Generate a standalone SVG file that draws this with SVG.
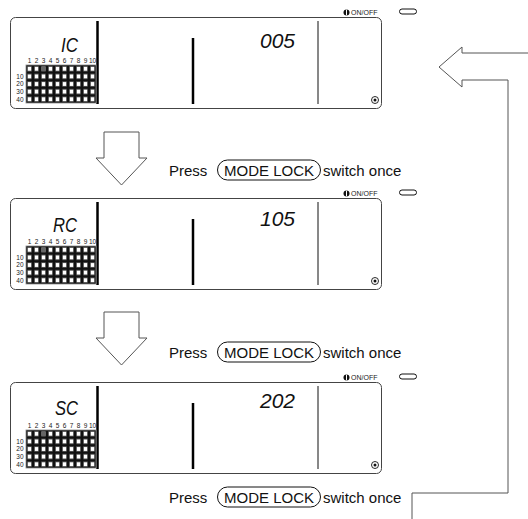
<svg xmlns="http://www.w3.org/2000/svg" xmlns:xlink="http://www.w3.org/1999/xlink" width="528" height="519" viewBox="0 0 528 519">
<style>
.frame{fill:#fff;stroke:#444;stroke-width:1}
.thick{stroke:#000;stroke-width:2.5}
.thin{stroke:#111;stroke-width:1}
.small{font-family:"Liberation Sans",Arial,sans-serif;font-size:6.5px;fill:#222}
.onoff{font-family:"Liberation Sans",Arial,sans-serif;font-size:7px;fill:#222}
.seg{font-family:"Liberation Sans",Arial,sans-serif;font-style:italic;font-size:21px;fill:#111}
.lbl{font-family:"Liberation Sans",Arial,sans-serif;font-size:15px;fill:#111}
.arrow{fill:#fff;stroke:#555;stroke-width:1}
.conn{fill:none;stroke:#555;stroke-width:1}
.pill{fill:none;stroke:#111;stroke-width:1}
</style>
<defs>
<pattern id="cells" x="26" y="48" width="7" height="7.6" patternUnits="userSpaceOnUse">
<rect x="0" y="0" width="7" height="7.6" fill="#111"/>
<rect x="1.5" y="1.6" width="4" height="4.4" fill="#fff" stroke="#444" stroke-width="0.5"/>
</pattern>
<g id="lcd">
<circle cx="346.5" cy="-4.5" r="3" fill="#111"/>
<line x1="346.5" y1="-7.3" x2="346.5" y2="-1.7" stroke="#fff" stroke-width="1"/>
<text class="onoff" x="351" y="-2">ON/OFF</text>
<rect x="399.5" y="-8" width="17" height="5" rx="2.5" class="pill"/>
<rect class="frame" x="10.5" y="0.5" width="371" height="91" rx="5"/>
<line class="thick" x1="97.5" y1="4" x2="97.5" y2="87"/>
<line class="thick" x1="193" y1="21" x2="193" y2="87"/>
<line class="thin" x1="318" y1="4" x2="318" y2="87"/>
<circle cx="375" cy="83" r="3.5" fill="none" stroke="#111" stroke-width="0.9"/>
<circle cx="375" cy="83" r="1.5" fill="#111"/>
<rect x="26" y="48" width="70" height="38" fill="url(#cells)" stroke="#888" stroke-width="0.8"/>
<rect x="41.5" y="49.6" width="4" height="4.4" fill="#666"/>
<g class="small" text-anchor="middle">
<text x="29.5" y="46">1</text><text x="36.5" y="46">2</text><text x="43.5" y="46">3</text><text x="50.5" y="46">4</text><text x="57.5" y="46">5</text>
<text x="64.5" y="46">6</text><text x="71.5" y="46">7</text><text x="78.5" y="46">8</text><text x="85.5" y="46">9</text><text x="92.5" y="46">10</text>
</g>
<g class="small" text-anchor="end">
<text x="23.5" y="61.7">10</text><text x="23.5" y="69.3">20</text><text x="23.5" y="76.9">30</text><text x="23.5" y="84.5">40</text>
</g>
</g>
</defs>

<g id="connectors">
<polygon class="arrow" points="104,132 139,132 139,158 147,158 121.5,185 96,158 104,158"/>
<polygon class="arrow" points="104,312 139,312 139,338 147,338 121.5,365 96,338 104,338"/>
<path class="arrow" d="M528,53 H462 V47 L439,67 L462,87 V80 H508 V493 H412 V519"/>
</g>

<g id="panel-ic" transform="translate(0,17)">
<use href="#lcd"/>
<text class="seg" x="61" y="35" textLength="17" lengthAdjust="spacingAndGlyphs">IC</text>
<text class="seg" x="295" y="31" text-anchor="end">005</text>
</g>

<g id="panel-rc" transform="translate(0,198)">
<use href="#lcd"/>
<text class="seg" x="53" y="34" textLength="24" lengthAdjust="spacingAndGlyphs">RC</text>
<text class="seg" x="295" y="28" text-anchor="end">105</text>
</g>

<g id="panel-sc" transform="translate(0,382)">
<use href="#lcd"/>
<text class="seg" x="55" y="33" textLength="23" lengthAdjust="spacingAndGlyphs">SC</text>
<text class="seg" x="295" y="26" text-anchor="end">202</text>
</g>

<g id="label-1">
<text class="lbl" x="169" y="176">Press</text>
<rect class="pill" x="217.5" y="160" width="103" height="20" rx="10"/>
<text class="lbl" x="269" y="176" text-anchor="middle">MODE LOCK</text>
<text class="lbl" x="323" y="176">switch once</text>
</g>
<g id="label-2">
<text class="lbl" x="169" y="358">Press</text>
<rect class="pill" x="217.5" y="342" width="103" height="20" rx="10"/>
<text class="lbl" x="269" y="358" text-anchor="middle">MODE LOCK</text>
<text class="lbl" x="323" y="358">switch once</text>
</g>
<g id="label-3">
<text class="lbl" x="169" y="503">Press</text>
<rect class="pill" x="217.5" y="487" width="103" height="20" rx="10"/>
<text class="lbl" x="269" y="503" text-anchor="middle">MODE LOCK</text>
<text class="lbl" x="323" y="503">switch once</text>
</g>
</svg>
